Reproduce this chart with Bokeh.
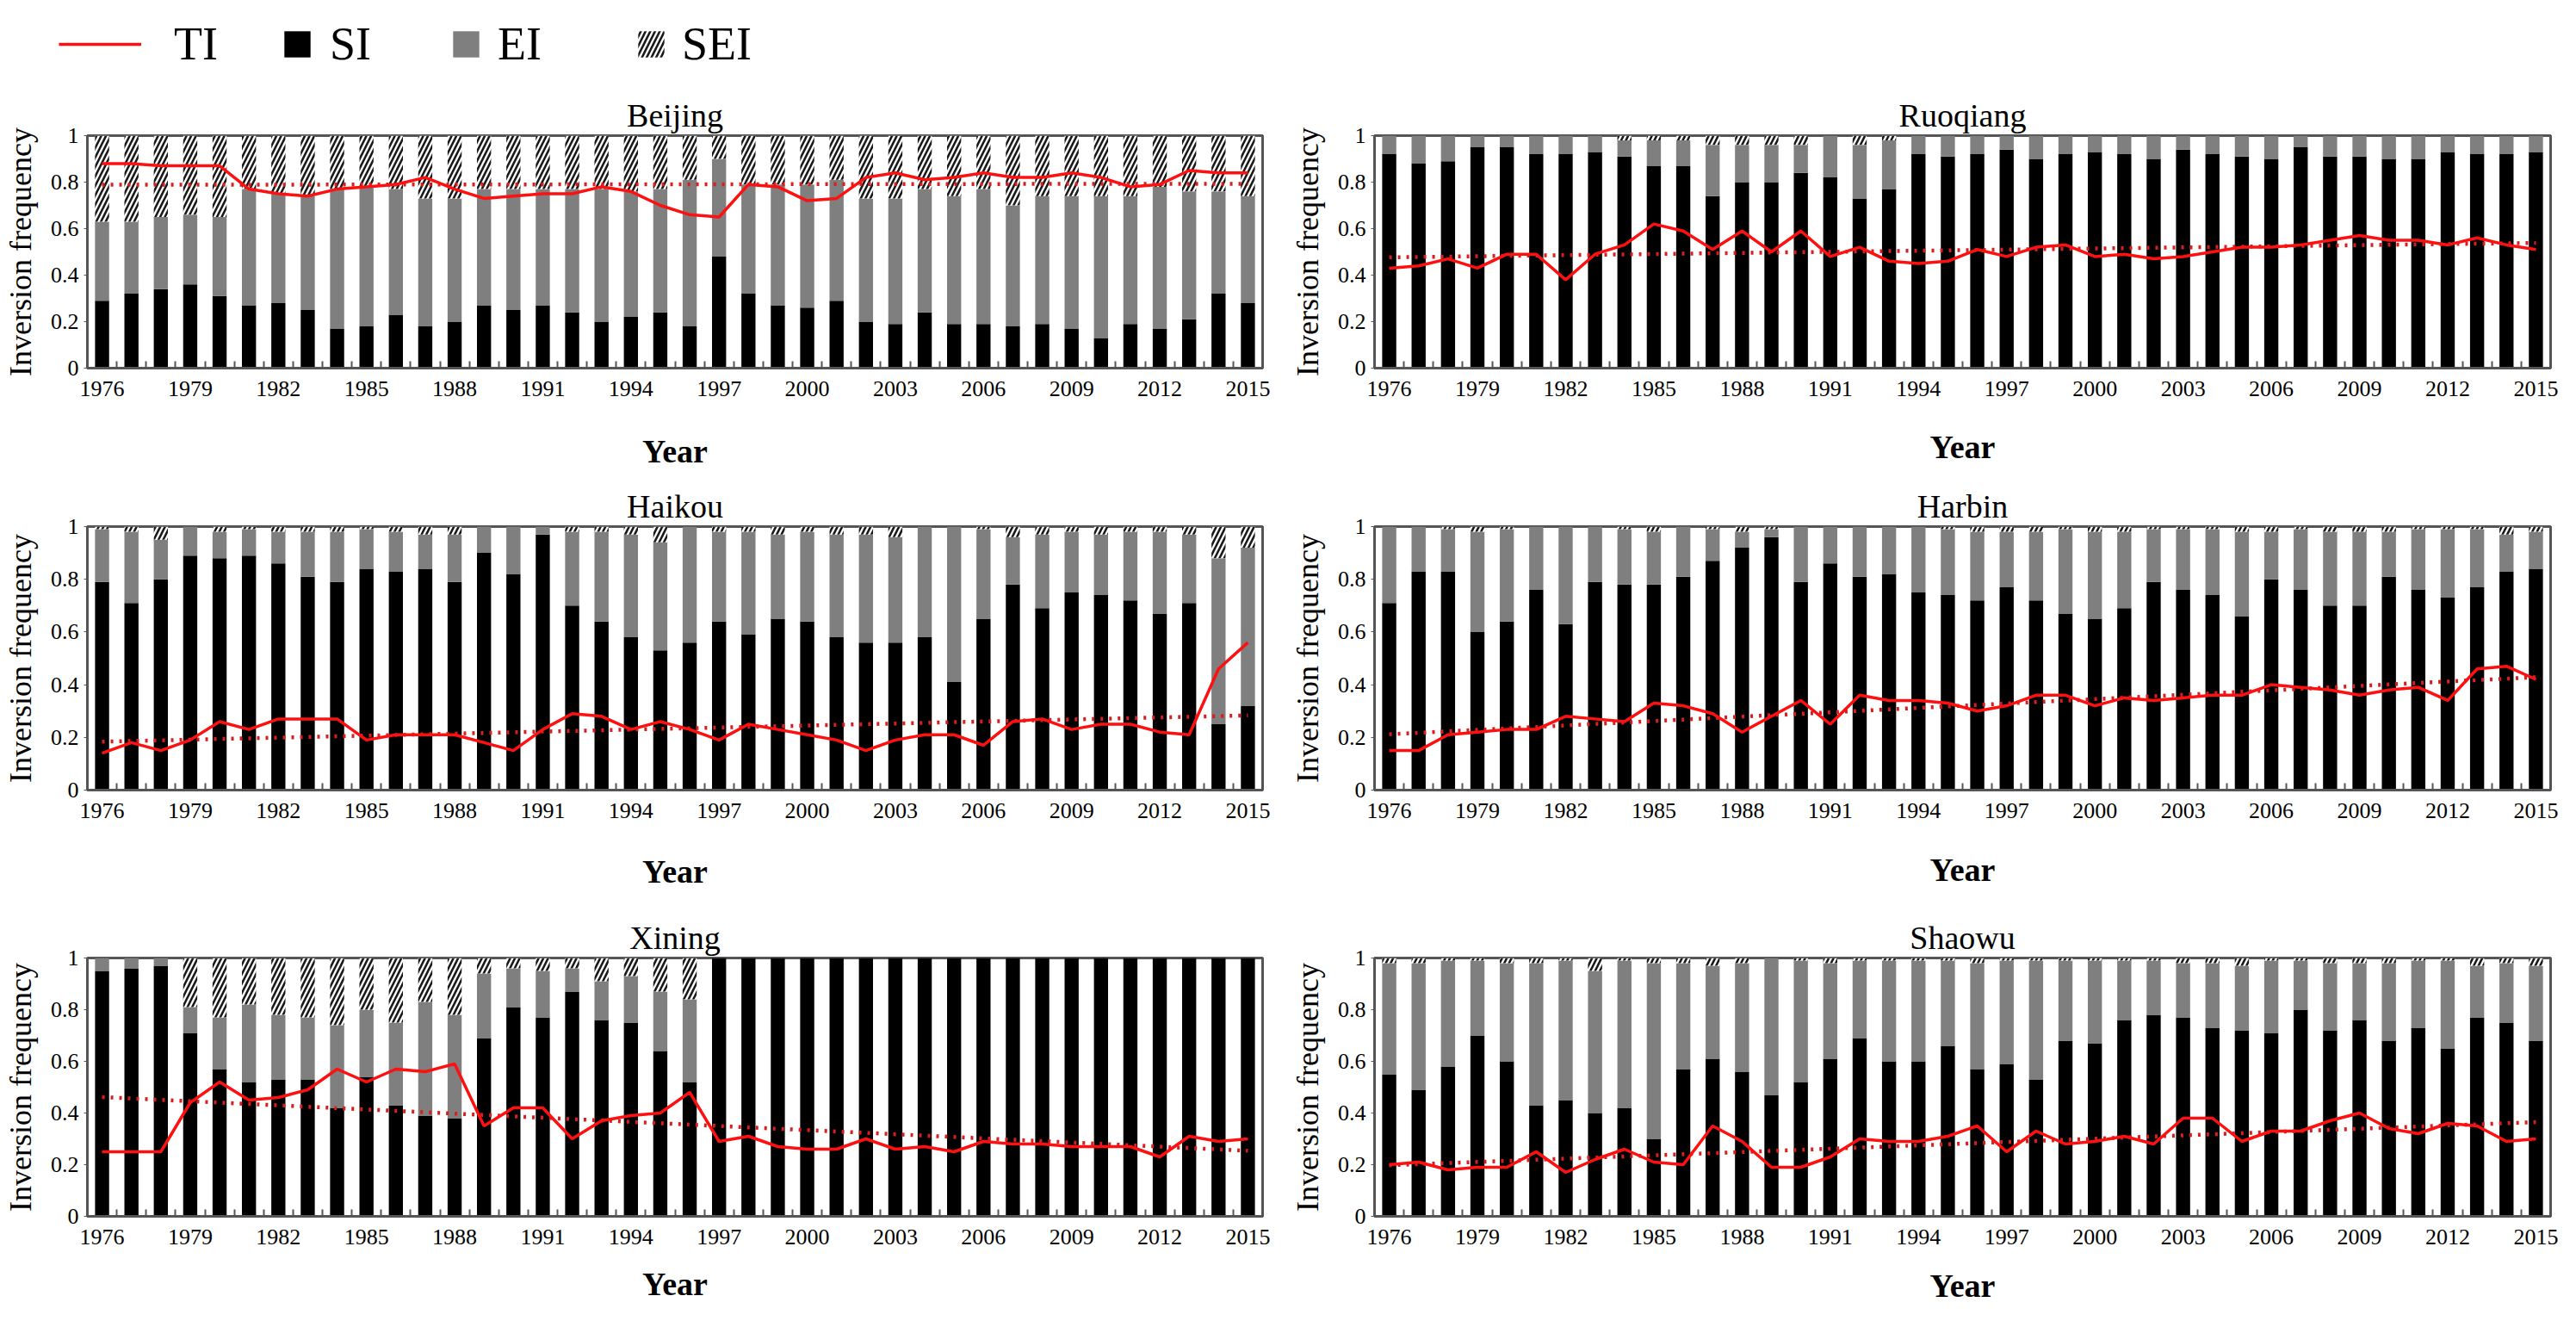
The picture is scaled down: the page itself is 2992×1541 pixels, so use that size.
import numpy as np
from bokeh.plotting import figure
from bokeh.models import (ColumnDataSource, Range1d, FixedTicker, CustomJSTickFormatter,
                          Legend, LegendItem)
from bokeh.layouts import column, row
from bokeh.embed import file_html
from bokeh.resources import INLINE

years = list(range(1976, 2016))
tick_years = years[::3]

# ---------------- data ----------------
beijing_si = [.29,.32,.34,.36,.31,.27,.28,.25,.17,.18,.23,.18,.20,.27,.25,.27,.24,.20,.22,.24,
              .18,.48,.32,.27,.26,.29,.20,.19,.24,.19,.19,.18,.19,.17,.13,.19,.17,.21,.32,.28]
beijing_ei = [.34,.31,.31,.30,.34,.50,.47,.49,.60,.60,.54,.55,.53,.50,.52,.50,.53,.57,.54,.53,
              .63,.42,.47,.52,.53,.52,.53,.54,.53,.55,.58,.52,.55,.57,.61,.55,.61,.55,.44,.46]
beijing_sei = [.37,.37,.35,.34,.35,.23,.25,.26,.23,.22,.23,.27,.27,.23,.23,.23,.23,.23,.24,.23,
               .19,.10,.21,.21,.21,.19,.27,.27,.23,.26,.23,.30,.26,.26,.26,.26,.22,.24,.24,.26]
beijing_ti = [.88,.88,.87,.87,.87,.77,.75,.74,.77,.78,.79,.82,.77,.73,.74,.75,.75,.78,.76,.70,
              .66,.65,.79,.78,.72,.73,.82,.84,.81,.82,.84,.82,.82,.84,.82,.78,.79,.85,.84,.84]

ruoqiang_si = [.92,.88,.89,.95,.95,.92,.92,.93,.91,.87,.87,.74,.80,.80,.84,.82,.73,.77,.92,.91,
               .92,.94,.90,.92,.93,.92,.90,.94,.92,.91,.90,.95,.91,.91,.90,.90,.93,.92,.92,.93]
ruoqiang_ei = [.08,.12,.11,.05,.05,.08,.08,.07,.07,.11,.11,.22,.16,.16,.12,.18,.23,.21,.08,.09,
               .08,.06,.10,.08,.07,.08,.10,.06,.08,.09,.10,.05,.09,.09,.10,.10,.07,.08,.08,.07]
ruoqiang_sei = [0,0,0,0,0,0,0,0,.02,.02,.02,.04,.04,.04,.04,0,.04,.02,0,0,
                0,0,0,0,0,0,0,0,0,0,0,0,0,0,0,0,0,0,0,0]
ruoqiang_ti = [.43,.44,.47,.43,.49,.49,.38,.49,.53,.62,.59,.51,.59,.50,.59,.48,.52,.46,.45,.46,
               .51,.48,.52,.53,.48,.49,.47,.48,.50,.52,.52,.53,.55,.57,.55,.55,.53,.56,.53,.51]

haikou_si = [.79,.71,.80,.89,.88,.89,.86,.81,.79,.84,.83,.84,.79,.90,.82,.97,.70,.64,.58,.53,
             .56,.64,.59,.65,.64,.58,.56,.56,.58,.41,.65,.78,.69,.75,.74,.72,.67,.71,.25,.32]
haikou_ei = [.20,.27,.15,.11,.10,.10,.12,.17,.19,.15,.15,.13,.18,.10,.18,.03,.28,.34,.39,.41,
             .44,.34,.39,.32,.34,.39,.41,.40,.42,.59,.34,.18,.28,.23,.23,.26,.31,.26,.63,.60]
haikou_sei = [.01,.02,.05,0,.02,.01,.02,.02,.02,.01,.02,.03,.03,0,0,0,.02,.02,.03,.06,
              0,.02,.02,.03,.02,.03,.03,.04,0,0,.01,.04,.03,.02,.03,.02,.02,.03,.12,.08]
haikou_ti = [.14,.18,.15,.19,.26,.23,.27,.27,.27,.19,.21,.21,.21,.18,.15,.23,.29,.28,.23,.26,
             .23,.19,.25,.23,.21,.19,.15,.19,.21,.21,.17,.26,.27,.23,.25,.25,.22,.21,.46,.56]

harbin_si = [.71,.83,.83,.60,.64,.76,.63,.79,.78,.78,.81,.87,.92,.96,.79,.86,.81,.82,.75,.74,
             .72,.77,.72,.67,.65,.69,.79,.76,.74,.66,.80,.76,.70,.70,.81,.76,.73,.77,.83,.84]
harbin_ei = [.29,.17,.16,.38,.35,.24,.37,.21,.21,.20,.19,.12,.06,.03,.21,.14,.19,.18,.25,.25,
             .26,.21,.26,.32,.33,.29,.20,.23,.25,.32,.18,.23,.28,.28,.17,.23,.26,.22,.14,.14]
harbin_sei = [0,0,.01,.02,.01,0,0,0,.01,.02,0,.01,.02,.01,0,0,0,0,0,.01,
              .02,.02,.02,.01,.02,.02,.01,.01,.01,.02,.02,.01,.02,.02,.02,.01,.01,.01,.03,.02]
harbin_ti = [.15,.15,.21,.22,.23,.23,.28,.27,.26,.33,.32,.29,.22,.28,.34,.25,.36,.34,.34,.33,
             .30,.32,.36,.36,.32,.35,.34,.35,.36,.36,.40,.39,.38,.36,.38,.39,.34,.46,.47,.42]

xining_si = [.95,.96,.97,.71,.57,.52,.53,.53,.42,.54,.43,.39,.38,.69,.81,.77,.87,.76,.75,.64,
             .52,1,1,1,1,1,1,1,1,1,1,1,1,1,1,1,1,1,1,1]
xining_ei = [.05,.04,.03,.10,.20,.30,.25,.24,.32,.26,.32,.44,.40,.25,.15,.18,.09,.15,.18,.23,
             .32,0,0,0,0,0,0,0,0,0,0,0,0,0,0,0,0,0,0,0]
xining_sei = [0,0,0,.19,.23,.18,.22,.23,.26,.20,.25,.17,.22,.06,.04,.05,.04,.09,.07,.13,
              .16,0,0,0,0,0,0,0,0,0,0,0,0,0,0,0,0,0,0,0]
xining_ti = [.25,.25,.25,.44,.52,.45,.46,.49,.57,.52,.57,.56,.59,.35,.42,.42,.30,.37,.39,.40,
             .48,.29,.31,.27,.26,.26,.30,.26,.27,.25,.29,.28,.28,.27,.27,.27,.23,.31,.29,.30]

shaowu_si = [.55,.49,.58,.70,.60,.43,.45,.40,.42,.30,.57,.61,.56,.47,.52,.61,.69,.60,.60,.66,
             .57,.59,.53,.68,.67,.76,.78,.77,.73,.72,.71,.80,.72,.76,.68,.73,.65,.77,.75,.68]
shaowu_ei = [.43,.49,.41,.29,.38,.55,.54,.55,.57,.68,.41,.36,.42,.53,.47,.37,.30,.39,.39,.33,
             .41,.40,.46,.31,.32,.23,.21,.21,.25,.25,.28,.19,.26,.22,.30,.26,.34,.20,.23,.29]
shaowu_sei = [.02,.02,.01,.01,.02,.02,.01,.05,.01,.02,.02,.03,.02,0,.01,.02,.01,.01,.01,.01,
              .02,.01,.01,.01,.01,.01,.01,.02,.02,.03,.01,.01,.02,.02,.02,.01,.01,.03,.02,.03]
shaowu_ti = [.20,.21,.18,.19,.19,.25,.17,.22,.26,.21,.20,.35,.29,.19,.19,.23,.30,.29,.29,.31,
             .35,.25,.33,.28,.29,.31,.28,.38,.38,.29,.33,.33,.37,.40,.34,.32,.36,.35,.29,.30]

legend_labels = ["TI", "SI", "EI", "SEI"]
y_ticks = [0, 0.2, 0.4, 0.6, 0.8, 1]

# ---------------- style ----------------
FONT = "Liberation Serif"
SI_COLOR = "black"
EI_COLOR = "#7f7f7f"
TI_COLOR = "#ff1010"
TREND_COLOR = "#d81e1e"
FRAME_COLOR = "#555555"
HATCH = dict(hatch_color="#1a1a1a", hatch_scale=11, hatch_weight=2.6)


def panel(name, si, ei, sei, ti, width, height, bl, br, bt, bb, year_standoff):
    p = figure(width=width, height=height, x_range=Range1d(1975.5, 2015.5), y_range=Range1d(0, 1),
               output_backend="svg", toolbar_location=None, title=name,
               min_border_left=bl, min_border_right=br, min_border_top=bt, min_border_bottom=bb)
    src = ColumnDataSource(dict(year=years, si=si, ei=ei, sei=sei))
    p.vbar_stack(["si", "ei", "sei"], x="year", width=0.48, source=src,
                 fill_color=[SI_COLOR, EI_COLOR, "white"], line_color=None,
                 hatch_pattern=[" ", " ", "/"], **HATCH)
    coef = np.polyfit(years, ti, 1)
    trend = np.polyval(coef, years)
    p.line(years, trend, line_color=TREND_COLOR, line_width=4.5, line_dash="3 7")
    p.line(years, ti, line_color=TI_COLOR, line_width=3.5)

    p.title.text_font = FONT
    p.title.text_font_size = "38px"
    p.title.text_font_style = "normal"
    p.title.align = "center"
    p.title.standoff = 6
    p.title.text_color = "black"

    p.xgrid.visible = False
    p.ygrid.visible = False
    p.outline_line_color = FRAME_COLOR
    p.outline_line_width = 3

    xa = p.xaxis[0]
    xa.ticker = FixedTicker(ticks=tick_years, minor_ticks=[y - 0.5 for y in years] + [2015.5])
    xa.major_tick_in = 0
    xa.major_tick_out = 0
    xa.minor_tick_in = 8
    xa.minor_tick_out = 0
    xa.minor_tick_line_color = FRAME_COLOR
    xa.minor_tick_line_width = 2
    xa.axis_line_color = FRAME_COLOR
    xa.axis_line_width = 3
    xa.major_label_text_font = FONT
    xa.major_label_text_font_size = "26px"
    xa.major_label_text_color = "black"
    xa.major_label_standoff = 15
    xa.axis_label = "Year"
    xa.axis_label_text_font = FONT
    xa.axis_label_text_font_size = "38px"
    xa.axis_label_text_font_style = "bold"
    xa.axis_label_text_color = "black"
    xa.axis_label_standoff = year_standoff

    ya = p.yaxis[0]
    ya.ticker = FixedTicker(ticks=y_ticks)
    ya.formatter = CustomJSTickFormatter(code="return String(Math.round(tick * 10) / 10);")
    ya.major_tick_in = 0
    ya.major_tick_out = 4
    ya.major_tick_line_color = FRAME_COLOR
    ya.minor_tick_line_color = None
    ya.axis_line_color = FRAME_COLOR
    ya.axis_line_width = 3
    ya.major_label_text_font = FONT
    ya.major_label_text_font_size = "26px"
    ya.major_label_text_color = "black"
    ya.major_label_standoff = 6
    ya.axis_label = "Inversion frequency"
    ya.axis_label_text_font = FONT
    ya.axis_label_text_font_size = "36px"
    ya.axis_label_text_font_style = "normal"
    ya.axis_label_text_color = "black"
    ya.axis_label_standoff = 12
    return p


# left column: width 1482, right column: width 1494
LW, RW = 1482, 1494
beijing = panel("Beijing", beijing_si, beijing_ei, beijing_sei, beijing_ti, LW, 470, 96, 16, 59, 131, 40)
ruoqiang = panel("Ruoqiang", ruoqiang_si, ruoqiang_ei, ruoqiang_sei, ruoqiang_ti, RW, 470, 114, 14, 69, 126, 35)
haikou = panel("Haikou", haikou_si, haikou_ei, haikou_sei, haikou_ti, LW, 500, 96, 16, 48, 141, 38)
harbin = panel("Harbin", harbin_si, harbin_ei, harbin_sei, harbin_ti, RW, 500, 114, 14, 53, 139, 36)
xining = panel("Xining", xining_si, xining_ei, xining_sei, xining_ti, LW, 467, 96, 16, 54, 111, 22)
shaowu = panel("Shaowu", shaowu_si, shaowu_ei, shaowu_sei, shaowu_ti, RW, 467, 114, 14, 52, 113, 24)

# ---------------- legend strip ----------------
# legend renderers reuse real series but lie outside this strip's visible range
lg = figure(width=LW + RW, height=88, x_range=Range1d(0, 1), y_range=Range1d(0, 1),
            output_backend="svg", toolbar_location=None,
            min_border_left=0, min_border_right=0, min_border_top=0, min_border_bottom=0)
lg.axis.visible = False
lg.xgrid.visible = False
lg.ygrid.visible = False
lg.outline_line_color = None
r_ti = lg.line(x=years, y=beijing_ti, line_color=TI_COLOR, line_width=3.5)
r_si = lg.vbar(x=years, top=beijing_si, width=0.4, fill_color=SI_COLOR, line_color=None)
r_ei = lg.vbar(x=years, top=beijing_ei, width=0.4, fill_color=EI_COLOR, line_color=None)
r_sei = lg.vbar(x=years, top=beijing_sei, width=0.4, fill_color="white", line_color=None,
                hatch_pattern="/", **HATCH)

specs = [(r_ti, 68, 96, 38), (r_si, 326, 38, 19), (r_ei, 522, 38, 18), (r_sei, 737, 38, 17)]
for (rend, xpos, gw, stand), lab in zip(specs, legend_labels):
    leg = Legend(items=[LegendItem(label=lab, renderers=[rend])], location=(xpos, 6),
                 orientation="horizontal", glyph_width=gw, glyph_height=38,
                 label_text_font=FONT, label_text_font_size="54px", label_text_color="black",
                 label_standoff=stand, padding=0, margin=0, spacing=0,
                 border_line_color=None, background_fill_alpha=0)
    lg.add_layout(leg, "center")

layout = column(lg, row(beijing, ruoqiang), row(haikou, harbin), row(xining, shaowu))

open("out.html", "w").write(file_html(layout, INLINE, title="Inversion frequency"))
